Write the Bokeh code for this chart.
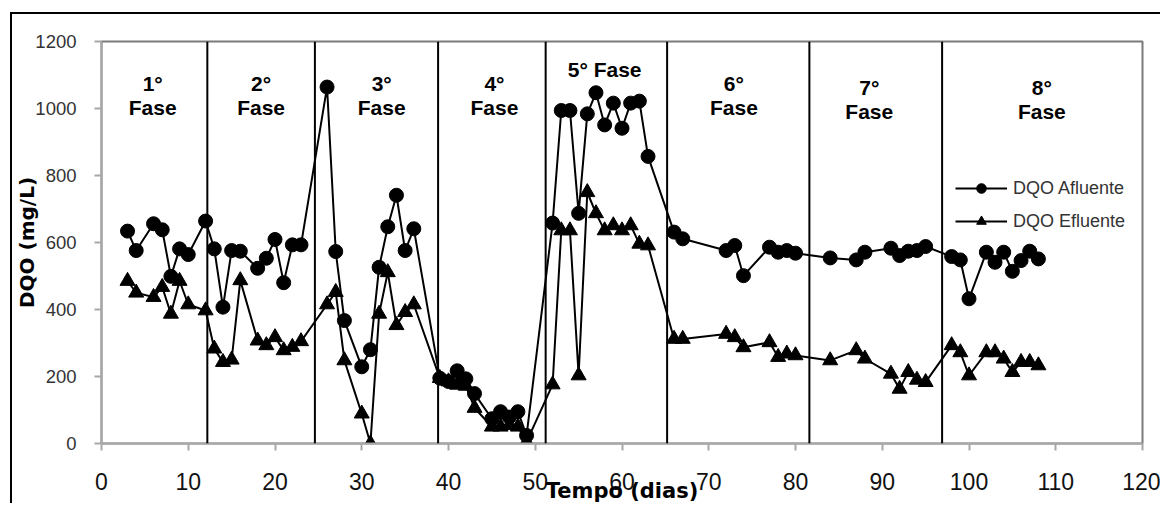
from bokeh.plotting import figure
from bokeh.models import Range1d, Span, Legend, LegendItem, ColumnDataSource, FixedTicker
from bokeh.core.properties import value
from bokeh.embed import file_html
from bokeh.resources import INLINE

# ---- data ----
dias_afl = [3, 4, 6, 7, 8, 9, 10, 12, 13, 14, 15, 16, 18, 19, 20, 21, 22, 23,
            26, 27, 28, 30, 31, 32, 33, 34, 35, 36,
            39, 40, 41, 42, 43, 45, 46, 47, 48, 49,
            52, 53, 54, 55, 56, 57, 58, 59, 60, 61, 62, 63,
            66, 67, 72, 73, 74, 77, 78, 79, 80,
            84, 87, 88, 91, 92, 93, 94, 95,
            98, 99, 100, 102, 103, 104, 105, 106, 107, 108]
dqo_afl = [634, 576, 656, 638, 499, 581, 564, 664, 581, 407, 576, 574, 523, 553, 609, 480, 593, 593,
           1064, 573, 367, 229, 280, 526, 647, 741, 576, 641,
           195, 185, 217, 193, 149, 74, 95, 79, 95, 24,
           658, 994, 994, 687, 984, 1047, 951, 1016, 941, 1016, 1022, 857,
           631, 611, 576, 591, 501, 586, 571, 576, 568,
           554, 548, 571, 583, 561, 574, 576, 588,
           558, 548, 432, 571, 541, 571, 514, 546, 574, 551]

dias_efl = dias_afl
dqo_efl = [485, 450, 437, 467, 387, 485, 415, 397, 283, 243, 250, 487, 307, 293, 317, 278, 288, 305,
           415, 452, 248, 89, 0, 387, 511, 353, 392, 415,
           195, 185, 175, 172, 106, 50, 50, 55, 50, 5,
           176, 636, 636, 203, 750, 687, 636, 651, 636, 651, 596, 591,
           312, 312, 327, 317, 287, 302, 258, 268, 263,
           248, 278, 253, 208, 163, 213, 190, 183,
           293, 272, 203, 272, 272, 253, 213, 243, 243, 233]

# phase boundaries (days)
limites_fase = [12.2, 24.6, 38.8, 51.2, 65.2, 81.6, 96.9]

# phase labels
fase_num = ["1°", "2°", "3°", "4°", "6°", "7°", "8°"]
fase_word = ["Fase"] * 7
fase_single = ["5° Fase"]

x_ticks = [0, 10, 20, 30, 40, 50, 60, 70, 80, 90, 100, 110, 120]
y_ticks = [0, 200, 400, 600, 800, 1000, 1200]

# ---- label placement (annotation positions) ----
fase_x = [5.9, 18.4, 32.3, 45.3, 72.9, 88.5, 108.4]
fase_y_num = [1075, 1075, 1075, 1075, 1075, 1063, 1063]
fase_y_word = [1003, 1003, 1003, 1003, 1003, 991, 991]
single_x = [58.0]
single_y = [1116]

p = figure(width=1150, height=491, output_backend="svg", toolbar_location=None,
           x_range=Range1d(0, 120), y_range=Range1d(0, 1200),
           min_border_left=85, min_border_right=20, min_border_top=27, min_border_bottom=62)
p.margin = (12, 0, 0, 10)
p.styles = {"border-top": "2px solid #000000", "border-left": "2px solid #000000"}

p.grid.visible = False
p.outline_line_color = "#7a7a7a"
p.outline_line_width = 2
p.background_fill_color = "white"
p.border_fill_color = "white"

for ax in (p.xaxis[0], p.yaxis[0]):
    ax.axis_line_color = "#a8a8a8"
    ax.axis_line_width = 2
    ax.major_tick_line_color = "#a8a8a8"
    ax.major_tick_line_width = 2
    ax.major_tick_out = 7
    ax.major_tick_in = 0
    ax.minor_tick_line_color = None

p.xaxis.ticker = FixedTicker(ticks=x_ticks)
p.yaxis.ticker = FixedTicker(ticks=y_ticks)

p.xaxis.major_label_text_font = "Liberation Sans"
p.xaxis.major_label_text_font_size = "23px"
p.xaxis.major_label_text_color = "#111111"
p.xaxis.major_label_standoff = 22
p.xaxis.axis_label = "Tempo (dias)"
p.xaxis.axis_label_text_font = "DejaVu Sans"
p.xaxis.axis_label_text_font_style = "bold"
p.xaxis.axis_label_text_font_size = "21px"
p.xaxis.axis_label_text_color = "#000000"
p.xaxis.axis_label_standoff = -14

p.yaxis.major_label_text_font = "Liberation Sans"
p.yaxis.major_label_text_font_size = "18.5px"
p.yaxis.major_label_text_color = "#333333"
p.yaxis.major_label_standoff = 18
p.yaxis.axis_label = "DQO (mg/L)"
p.yaxis.axis_label_text_font = "DejaVu Sans"
p.yaxis.axis_label_text_font_style = "bold"
p.yaxis.axis_label_text_font_size = "20px"
p.yaxis.axis_label_text_color = "#000000"
p.yaxis.axis_label_standoff = -7

for xb in limites_fase:
    p.add_layout(Span(location=xb, dimension="height", line_color="black", line_width=2))

src_a = ColumnDataSource(dict(x=dias_afl, y=dqo_afl))
src_e = ColumnDataSource(dict(x=dias_efl, y=dqo_efl))

la = p.line("x", "y", source=src_a, line_color="black", line_width=2)
sa = p.scatter("x", "y", source=src_a, marker="circle", size=14, fill_color="black", line_color="black")
le = p.line("x", "y", source=src_e, line_color="black", line_width=2)
se = p.scatter("x", "y", source=src_e, marker="triangle", size=15, fill_color="black", line_color="black")

src_num = ColumnDataSource(dict(x=fase_x, y=fase_y_num, t=fase_num))
src_word = ColumnDataSource(dict(x=fase_x, y=fase_y_word, t=fase_word))
src_single = ColumnDataSource(dict(x=single_x, y=single_y, t=fase_single))
for s in (src_num, src_word, src_single):
    p.text("x", "y", text="t", source=s, text_font=value("Liberation Sans"), text_font_style="bold",
           text_font_size="21px", text_align="center", text_baseline="middle", text_color="black")

legend = Legend(items=[LegendItem(label="DQO Afluente", renderers=[la, sa]),
                       LegendItem(label="DQO Efluente", renderers=[le, se])],
                location=(854, 210), padding=0, margin=0, spacing=9,
                glyph_width=52, glyph_height=24, label_height=24, label_standoff=6,
                label_text_font="Liberation Sans", label_text_font_size="18px",
                label_text_color="#333333", border_line_color=None, background_fill_alpha=0)
p.add_layout(legend)

open("out.html", "w").write(file_html(p, INLINE))
